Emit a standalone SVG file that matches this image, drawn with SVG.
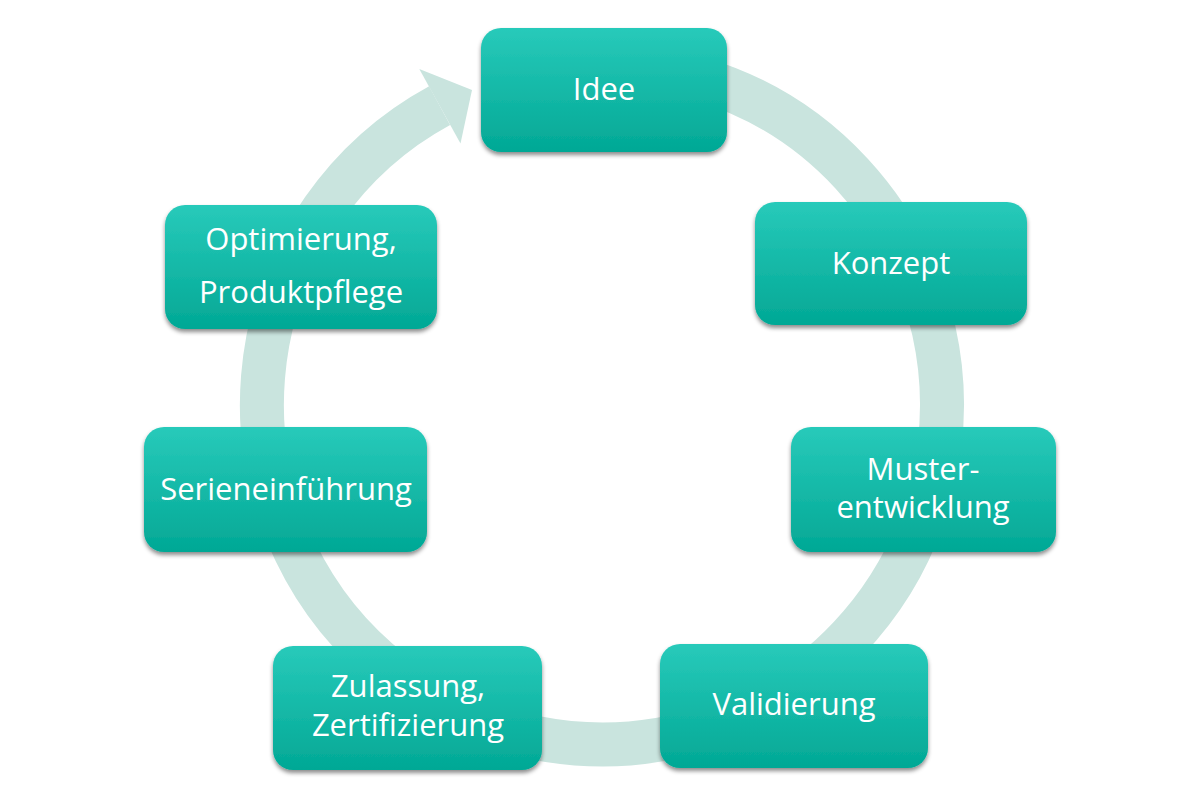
<svg xmlns="http://www.w3.org/2000/svg" width="1200" height="801" viewBox="0 0 1200 801">
  <defs>
    <linearGradient id="boxGrad" x1="0" y1="0" x2="0" y2="1">
      <stop offset="0" stop-color="#28CABA"/>
      <stop offset="1" stop-color="#02A895"/>
    </linearGradient>
    <filter id="shadow" x="-10%" y="-10%" width="120%" height="130%">
      <feDropShadow dx="0" dy="3" stdDeviation="2" flood-color="#000" flood-opacity="0.45"/>
    </filter>
    <style>
      .box { fill: url(#boxGrad); filter: url(#shadow); }
      .lbl { font-family: "Open Sans", "Noto Sans", sans-serif; font-size: 31px; fill: #FFFFFF; text-anchor: middle; }
      .ring { fill: none; stroke: #C9E4DE; stroke-width: 44; }
      .head { fill: #C9E4DE; }
    </style>
  </defs>
  <rect width="1200" height="801" fill="#FFFFFF"/>
  <g id="connectors">
    <path class="ring" d="M 545.3 69.1 A 340 340 0 1 1 439.6 105.6"/>
    <polygon class="head" points="419.3,69.0 472.0,90.0 460.5,143.6"/>
  </g>
  <g id="node-idee">
    <rect class="box" x="481" y="28" width="246" height="124" rx="20"/>
    <text class="lbl" x="604" y="100">Idee</text>
  </g>
  <g id="node-konzept">
    <rect class="box" x="755" y="202" width="272" height="123" rx="20"/>
    <text class="lbl" x="891" y="274">Konzept</text>
  </g>
  <g id="node-muster">
    <rect class="box" x="791" y="427" width="265" height="125" rx="20"/>
    <text class="lbl" x="923" y="480">Muster-</text>
    <text class="lbl" x="923" y="518">entwicklung</text>
  </g>
  <g id="node-validierung">
    <rect class="box" x="660" y="644" width="268" height="124" rx="20"/>
    <text class="lbl" x="794" y="715">Validierung</text>
  </g>
  <g id="node-zulassung">
    <rect class="box" x="273" y="646" width="269" height="124" rx="20"/>
    <text class="lbl" x="408" y="697">Zulassung,</text>
    <text class="lbl" x="408" y="736">Zertifizierung</text>
  </g>
  <g id="node-serie">
    <rect class="box" x="144" y="427" width="283" height="125" rx="20"/>
    <text class="lbl" x="286" y="500">Serieneinführung</text>
  </g>
  <g id="node-optimierung">
    <rect class="box" x="165" y="205" width="272" height="124" rx="20"/>
    <text class="lbl" x="301" y="250">Optimierung,</text>
    <text class="lbl" x="301" y="303">Produktpflege</text>
  </g>
</svg>
